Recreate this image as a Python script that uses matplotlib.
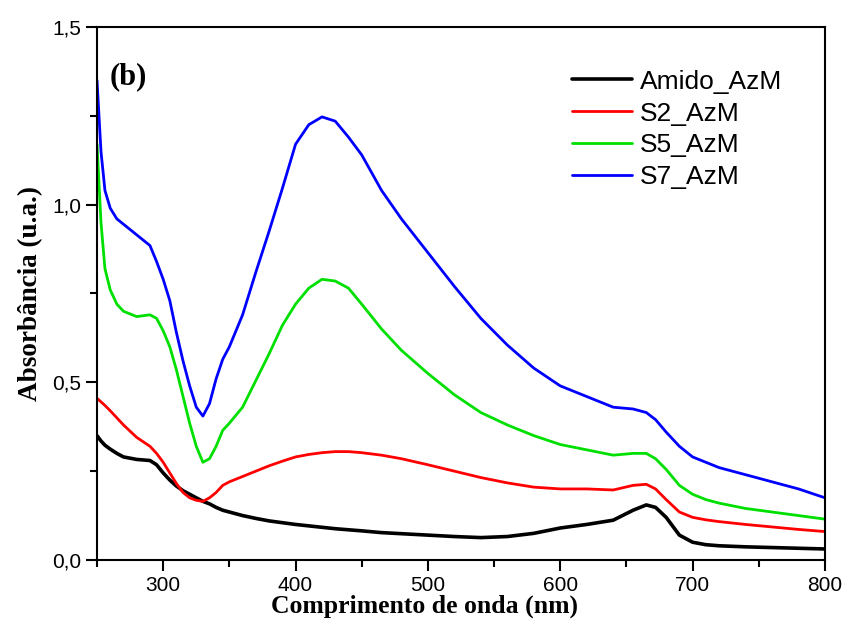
import matplotlib
matplotlib.use("Agg")
import matplotlib.pyplot as plt
from matplotlib.ticker import MultipleLocator, FuncFormatter

wavelength = [250, 253, 256, 260, 265, 270, 280, 290, 295, 300, 305, 310, 315, 320, 325, 330,
              335, 340, 345, 350, 360, 370, 380, 390, 400, 410, 420, 430, 440, 450, 465, 480,
              500, 520, 540, 560, 580, 600, 620, 640, 655, 665, 672, 680, 690, 700, 710, 720,
              740, 760, 780, 800]

amido = [0.35, 0.335, 0.323, 0.312, 0.30, 0.29, 0.283, 0.28, 0.268, 0.245, 0.225, 0.208, 0.195,
         0.185, 0.175, 0.165, 0.158, 0.148, 0.14, 0.135, 0.125, 0.117, 0.11, 0.105, 0.10, 0.096,
         0.092, 0.088, 0.085, 0.082, 0.077, 0.074, 0.07, 0.066, 0.063, 0.066, 0.075, 0.09, 0.10,
         0.112, 0.14, 0.155, 0.148, 0.12, 0.07, 0.05, 0.043, 0.04, 0.037, 0.035, 0.033, 0.031]
s2 = [0.455, 0.445, 0.435, 0.42, 0.40, 0.38, 0.345, 0.32, 0.30, 0.275, 0.245, 0.215, 0.19, 0.175,
      0.168, 0.165, 0.175, 0.19, 0.21, 0.22, 0.235, 0.25, 0.265, 0.278, 0.29, 0.297, 0.302, 0.305,
      0.305, 0.302, 0.295, 0.285, 0.268, 0.25, 0.232, 0.217, 0.205, 0.20, 0.20, 0.197, 0.21,
      0.213, 0.20, 0.17, 0.135, 0.12, 0.113, 0.108, 0.10, 0.093, 0.086, 0.08]
s5 = [1.17, 0.95, 0.82, 0.76, 0.72, 0.70, 0.685, 0.69, 0.68, 0.645, 0.60, 0.535, 0.46, 0.385, 0.32,
      0.275, 0.285, 0.32, 0.365, 0.385, 0.43, 0.505, 0.58, 0.66, 0.72, 0.765, 0.79, 0.785, 0.765,
      0.72, 0.65, 0.59, 0.525, 0.465, 0.415, 0.38, 0.35, 0.325, 0.31, 0.295, 0.30, 0.30, 0.285,
      0.255, 0.21, 0.185, 0.17, 0.16, 0.145, 0.135, 0.125, 0.115]
s7 = [1.35, 1.15, 1.04, 0.99, 0.96, 0.945, 0.915, 0.885, 0.84, 0.79, 0.73, 0.64, 0.56, 0.49, 0.43,
      0.405, 0.44, 0.51, 0.565, 0.60, 0.69, 0.81, 0.925, 1.045, 1.17, 1.225, 1.247, 1.235, 1.19,
      1.14, 1.04, 0.96, 0.865, 0.77, 0.68, 0.605, 0.54, 0.49, 0.46, 0.43, 0.425, 0.415, 0.395,
      0.36, 0.32, 0.29, 0.275, 0.26, 0.24, 0.22, 0.20, 0.175]

series = [("Amido_AzM", amido, "#000000", 2.6),
          ("S2_AzM", s2, "#ff0000", 2.0),
          ("S5_AzM", s5, "#00e000", 2.0),
          ("S7_AzM", s7, "#0000ff", 2.0)]

fig = plt.figure(figsize=(8.45, 6.28), dpi=100)
ax = fig.add_axes([0.1148, 0.1083, 0.8615, 0.8487])

for name, vals, col, lw in series:
    ax.plot(wavelength, vals, color=col, lw=lw, label=name,
            solid_joinstyle="round", solid_capstyle="round")

ax.set_xlim(250, 800)
ax.set_ylim(0, 1.5)
ax.xaxis.set_major_locator(MultipleLocator(100))
ax.xaxis.set_minor_locator(MultipleLocator(50))
ax.yaxis.set_major_locator(MultipleLocator(0.5))
ax.yaxis.set_minor_locator(MultipleLocator(0.25))
ax.yaxis.set_major_formatter(FuncFormatter(lambda v, p: f"{v:.1f}".replace(".", ",")))
ax.tick_params(which="both", direction="out", width=1.5, top=False, right=False)
ax.tick_params(which="major", length=8, labelsize=15)
ax.tick_params(which="minor", length=5)
for lab in ax.get_xticklabels() + ax.get_yticklabels():
    lab.set_family("Liberation Sans")
for sp in ax.spines.values():
    sp.set_linewidth(1.5)

ax.set_xlabel("Comprimento de onda (nm)", family="Liberation Serif", fontweight="bold",
              fontsize=18.5, labelpad=2)
ax.xaxis.set_label_coords(0.45, -0.065)
ax.set_ylabel("Absorbância (u.a.)", family="Liberation Serif", fontweight="bold",
              fontsize=19.5, labelpad=6)
ax.text(0.018, 0.906, "(b)", transform=ax.transAxes, family="Liberation Serif",
        fontweight="bold", fontsize=22, va="center")

leg = ax.legend(loc="upper left", bbox_to_anchor=(0.652, 0.92), frameon=False,
                prop={"family": "Liberation Sans", "size": 19}, handlelength=2.3,
                labelspacing=0.3, handletextpad=0.27, borderpad=0, borderaxespad=0)

fig.savefig("out.png", dpi=100)
